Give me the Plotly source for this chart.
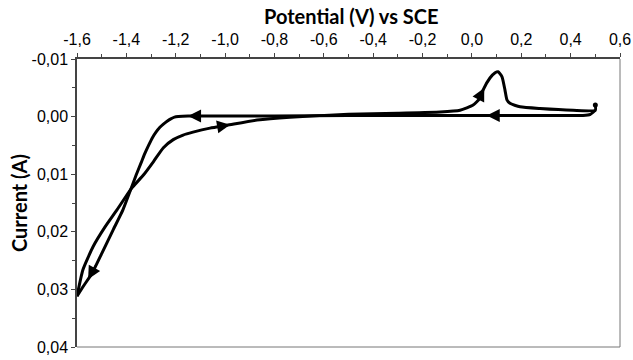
import numpy as np
import plotly.graph_objects as go

# Cathodic sweep (0.5 V -> -1.6 V)
cath_v = [0.50, 0.48, 0.45, 0.30, 0.10, -0.20, -0.50, -0.80, -1.00, -1.15, -1.19, -1.205, -1.22,
          -1.235, -1.25, -1.265, -1.28, -1.295, -1.31, -1.325, -1.34, -1.36, -1.38, -1.414, -1.454,
          -1.499, -1.539, -1.575, -1.60]
cath_i = [-0.0011, -0.0004, -0.0002, -0.0002, -0.0002, -0.0002, -0.0002, -0.0001, -0.0001, -0.0001, 0.0000,
          0.0001, 0.0004, 0.0008, 0.0013, 0.0019, 0.0027, 0.0037, 0.0050, 0.0064, 0.0080, 0.0101, 0.0124,
          0.0162, 0.0197, 0.0237, 0.0272, 0.0295, 0.0312]

# Anodic sweep (-1.6 V -> 0.5 V)
an_v = [-1.60, -1.576, -1.535, -1.487, -1.438, -1.38, -1.33, -1.29, -1.25, -1.21, -1.17, -1.13,
        -1.061, -0.992, -0.871, -0.737, -0.50, -0.30, -0.129, -0.048, 0.005, 0.033, 0.045, 0.073,
        0.094, 0.106, 0.122, 0.134, 0.142, 0.154, 0.195, 0.276, 0.41, 0.50, 0.50]
an_i = [0.0312, 0.0266, 0.0226, 0.0192, 0.0162, 0.0125, 0.0101, 0.0078, 0.0054, 0.0040, 0.0032, 0.0027,
        0.0020, 0.0015, 0.0006, 0.0001, -0.0004, -0.0006, -0.0008, -0.0011, -0.0020, -0.0032, -0.0046,
        -0.0067, -0.0076, -0.0078, -0.0069, -0.0046, -0.0029, -0.0023, -0.0017, -0.0014, -0.0011,
        -0.0011, -0.0020]

x_tickvals = [-1.6, -1.4, -1.2, -1.0, -0.8, -0.6, -0.4, -0.2, 0.0, 0.2, 0.4, 0.6]
x_ticktext = ["-1,6", "-1,4", "-1,2", "-1,0", "-0,8", "-0,6", "-0,4", "-0,2", "0,0", "0,2", "0,4", "0,6"]
y_tickvals = [-0.01, 0.0, 0.01, 0.02, 0.03, 0.04]
y_ticktext = ["-0,01", "0,00", "0,01", "0,02", "0,03", "0,04"]

# arrow positions: (branch, head potential, tail potential)
arrows = [("c", -1.15, -1.10), ("c", 0.06, 0.11), ("c", -1.555, -1.52),
          ("a", -0.98, -1.03), ("a", 0.05, 0.025)]

line_style = dict(color="black", width=3, shape="spline", smoothing=0.5)
fig = go.Figure()
fig.add_trace(go.Scatter(x=cath_v, y=cath_i, mode="lines", line=line_style,
                         showlegend=False, hoverinfo="skip"))
fig.add_trace(go.Scatter(x=an_v, y=an_i, mode="lines", line=line_style,
                         showlegend=False, hoverinfo="skip"))
fig.add_trace(go.Scatter(x=[an_v[-1]], y=[an_i[-1]], mode="markers",
                         marker=dict(color="black", size=5), showlegend=False, hoverinfo="skip"))


def interp(branch, v):
    xs = np.array(cath_v if branch == "c" else an_v)
    ys = np.array(cath_i if branch == "c" else an_i)
    if xs[0] > xs[-1]:
        xs, ys = xs[::-1], ys[::-1]
    xs_u, idx = np.unique(xs, return_index=True)
    return float(np.interp(v, xs_u, ys[idx]))


L, R, T, B = 77, 13, 59, 13
pw, ph = 633 - L - R, 360 - T - B

annotations = []
for br, vh, vt in arrows:
    annotations.append(dict(x=vh, y=interp(br, vh), ax=vt, ay=interp(br, vt),
                            xref="x", yref="y", axref="x", ayref="y",
                            showarrow=True, arrowhead=2, arrowsize=1.3, arrowwidth=2,
                            arrowcolor="black", standoff=0, text=""))

annotations.append(dict(text="<b>Potential (V) vs SCE</b>",
                        x=(351 - L) / pw, y=1 + (T - 16) / ph, xref="paper", yref="paper",
                        xanchor="center", yanchor="middle", showarrow=False,
                        font=dict(family="Lato", size=20, color="black")))
annotations.append(dict(text="<b>Current (A)</b>",
                        x=-(L - 19) / pw, y=0.5, xref="paper", yref="paper",
                        xanchor="center", yanchor="middle", showarrow=False, textangle=-90,
                        font=dict(family="Lato", size=20, color="black")))

tickfont = dict(family="Liberation Sans, Arial", size=16, color="black")
fig.update_layout(
    width=633, height=360,
    margin=dict(l=L, r=R, t=T, b=B, autoexpand=False),
    paper_bgcolor="white", plot_bgcolor="white",
    font=dict(family="Liberation Sans, Arial", size=16, color="black"),
    xaxis=dict(side="top", range=[-1.6, 0.6], tickvals=x_tickvals, ticktext=x_ticktext,
               tickfont=tickfont, automargin=False, ticklabelstandoff=2,
               showgrid=False, zeroline=False, showline=True, linecolor="#444", linewidth=1.5,
               ticks="outside", ticklen=4, tickcolor="#444",
               minor=dict(dtick=0.1, ticks="outside", ticklen=3, tickcolor="#444")),
    yaxis=dict(range=[0.04, -0.01], tickvals=y_tickvals, ticktext=y_ticktext,
               tickfont=tickfont, automargin=False,
               showgrid=False, zeroline=False, showline=True, linecolor="#444", linewidth=1.5,
               ticks="outside", ticklen=4, tickcolor="#444",
               minor=dict(dtick=0.005, ticks="outside", ticklen=3, tickcolor="#444")),
    shapes=[dict(type="line", xref="paper", yref="paper", x0=1, x1=1, y0=0, y1=1,
                 line=dict(color="#777", width=1)),
            dict(type="line", xref="paper", yref="paper", x0=0, x1=1, y0=0, y1=0,
                 line=dict(color="#777", width=1))],
    annotations=annotations,
)

fig.write_html("out.html")
